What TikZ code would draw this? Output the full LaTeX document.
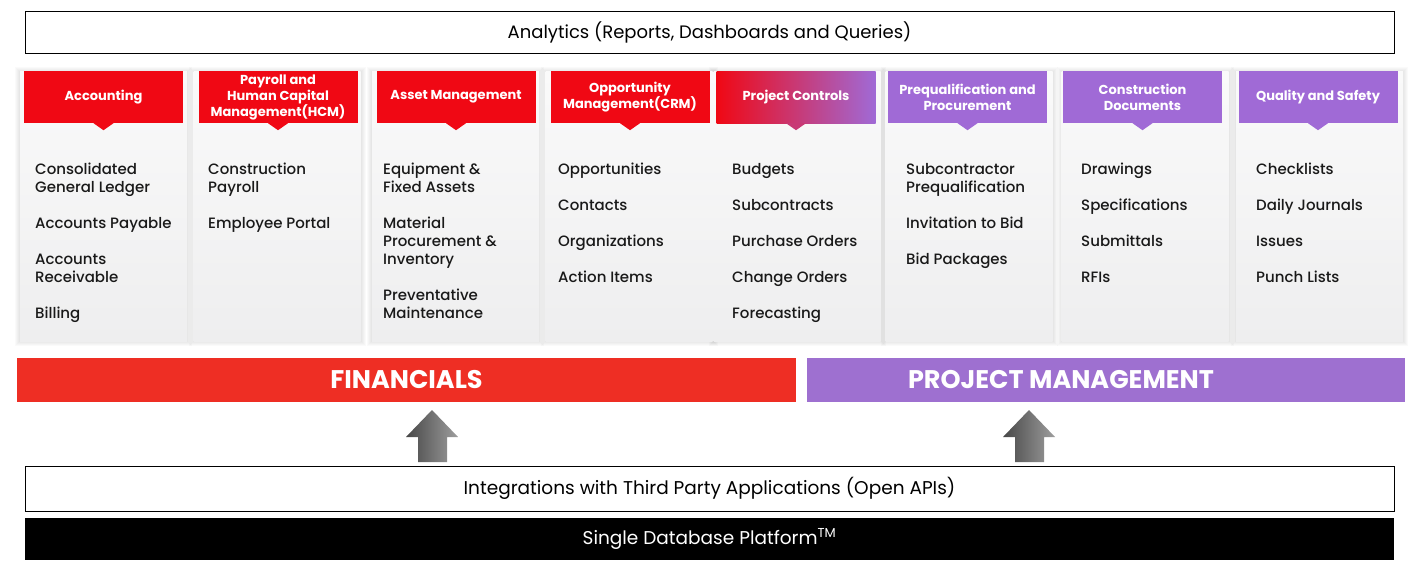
\documentclass[tikz,border=0pt]{standalone}
\usepackage{fontspec}
\setmainfont{Poppins}
\IfFontExistsTF{Poppins Medium}{\newfontfamily\itemfont{Poppins Medium}}{\newfontfamily\itemfont{Poppins}}
\definecolor{hdred}{RGB}{240,8,20}
\definecolor{hdpur}{RGB}{160,106,214}
\definecolor{barred}{RGB}{238,46,36}
\definecolor{barpur}{RGB}{158,112,208}
\definecolor{cardtop}{RGB}{250,250,250}
\definecolor{cardbot}{RGB}{238,238,239}
\definecolor{txt}{RGB}{25,25,25}
\begin{document}
\begin{tikzpicture}[x=1pt,y=-1pt,
  hdr/.style={minimum width=159, minimum height=52, inner sep=0, text=white,
    font=\bfseries\fontsize{13}{16}\selectfont, align=center},
  card/.style={top color=cardtop, bottom color=cardbot, minimum width=167, minimum height=270, inner sep=0},
  items/.style={anchor=north west, inner sep=0, align=left, text=txt,
    font=\itemfont\fontsize{15}{18}\selectfont},
  wbox/.style={draw=black, line width=0.8pt, fill=white, minimum width=1369, inner sep=0,
    font=\fontsize{18}{21}\selectfont, text=black},
  bigbar/.style={minimum height=44, inner sep=0, text=white,
    font=\bfseries\fontsize{25.5}{30}\selectfont},
  uparrow/.style={left color=black!72, right color=black!38, draw=none}
]
\useasboundingbox (0,0) rectangle (1420,565);
\fill[white] (0,0) rectangle (1420,565);

% Analytics
\node[wbox, minimum height=42] (analytics) at (709.5,32) {Analytics (Reports, Dashboards and Queries)};

% Soft card shadows
\foreach \c in {103.5,277,455.5,629,797,969,1145,1319.5}
  \foreach \k in {1,2,3,4,5}
    \fill[black, opacity=0.018] (\c-83.5-\k,71-\k+1) rectangle (\c+83.5+\k,341+\k);

% Cards
\foreach \c/\n in {103.5/1,277/2,455.5/3,629/4,797/5,969/6,1145/7,1319.5/8}
  \node[card] (card\n) at (\c,206) {};

% Headers
\node[hdr, fill=hdred] (h1) at (103.5,97) {Accounting};
\node[hdr, fill=hdred] (h2) at (278,97) {Payroll and\\Human Capital\\Management(HCM)};
\node[hdr, fill=hdred] (h3) at (456,97) {Asset Management};
\node[hdr, fill=hdred] (h4) at (630,97) {Opportunity\\Management(CRM)};
\node[hdr, left color=hdred, right color=hdpur] (h5) at (796,97) {Project Controls};
\node[hdr, fill=hdpur] (h6) at (967.5,97) {Prequalification and\\Procurement};
\node[hdr, fill=hdpur] (h7) at (1142.5,97) {Construction\\Documents};
\node[hdr, fill=hdpur] (h8) at (1318,97) {Quality and Safety};

\foreach \n/\col in {1/hdred,2/hdred,3/hdred,4/hdred,5/hdred!50!hdpur,6/hdpur,7/hdpur,8/hdpur}
  \fill[\col] ([xshift=-10pt]h\n.south) -- ([xshift=10pt]h\n.south) -- ([yshift=-7pt]h\n.south) -- cycle;

% Items
\node[items] (i1) at (35,163) {Consolidated\\General Ledger\\[18pt]Accounts Payable\\[18pt]Accounts\\Receivable\\[18pt]Billing};
\node[items] (i2) at (208,163) {Construction\\Payroll\\[18pt]Employee Portal};
\node[items] (i3) at (383,163) {Equipment \&\\Fixed Assets\\[18pt]Material\\Procurement \&\\Inventory\\[18pt]Preventative\\Maintenance};
\node[items] (i4) at (558,163) {Opportunities\\[18pt]Contacts\\[18pt]Organizations\\[18pt]Action Items};
\node[items] (i5) at (732,163) {Budgets\\[18pt]Subcontracts\\[18pt]Purchase Orders\\[18pt]Change Orders\\[18pt]Forecasting};
\node[items] (i6) at (906,163) {Subcontractor\\Prequalification\\[18pt]Invitation to Bid\\[18pt]Bid Packages};
\node[items] (i7) at (1081,163) {Drawings\\[18pt]Specifications\\[18pt]Submittals\\[18pt]RFIs};
\node[items] (i8) at (1256,163) {Checklists\\[18pt]Daily Journals\\[18pt]Issues\\[18pt]Punch Lists};

% Bars
\node[bigbar, fill=barred, minimum width=779] (fin) at (406.5,380) {FINANCIALS};
\node[bigbar, fill=barpur, minimum width=598] (pm) at (1106,380) {};
\node[inner sep=0, text=white, font=\bfseries\fontsize{25.5}{30}\selectfont] (pmtext) at (1061,380) {PROJECT MANAGEMENT};

% Arrows
\foreach \x in {432,1029}
  \path[uparrow] (\x,410) -- (\x+26,437) -- (\x+15,437) -- (\x+15,462)
     -- (\x-14,462) -- (\x-14,437) -- (\x-26,437) -- cycle;

% Integrations
\node[wbox, minimum height=45, font=\fontsize{18.5}{22}\selectfont] (integ) at (709.5,488.5) {Integrations with Third Party Applications (Open APIs)};

% Single database
\node[fill=black, minimum width=1369, minimum height=42, inner sep=0, text=white,
  font=\fontsize{18.5}{22}\selectfont] (db) at (709.5,539) {Single Database Platform\textsuperscript{TM}};
\end{tikzpicture}
\end{document}
